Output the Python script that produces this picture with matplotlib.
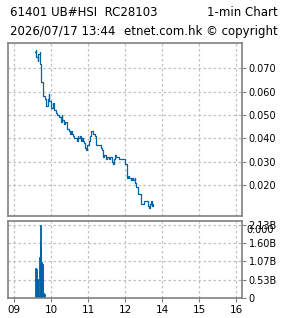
import matplotlib
matplotlib.use("Agg")
import matplotlib.pyplot as plt

# 1-min price data (time, price)
times = ["09:34", "09:35", "09:36", "09:38", "09:39", "09:41", "09:42", "09:43",
         "09:44", "09:46", "09:47", "09:49", "09:51", "09:52", "09:54", "09:56",
         "09:57", "09:59", "10:00", "10:02", "10:04", "10:06", "10:08", "10:10",
         "10:12", "10:13", "10:15", "10:17", "10:18", "10:20", "10:22", "10:23",
         "10:25", "10:27", "10:29", "10:30", "10:32", "10:34", "10:35", "10:37",
         "10:39", "10:41", "10:43", "10:44", "10:46", "10:48", "10:49", "10:51",
         "10:53", "10:55", "10:56", "10:58", "11:00", "11:01", "11:03", "11:05",
         "11:06", "11:08", "11:10", "11:11", "11:13", "11:15", "11:19", "11:20",
         "11:22", "11:24", "11:26", "11:28", "11:29", "11:31", "11:34", "11:36",
         "11:38", "11:40", "11:41", "11:43", "11:45", "11:48", "11:50", "11:56",
         "11:59", "13:01", "13:02", "13:03", "13:05", "13:06", "13:08", "13:10",
         "13:11", "13:13", "13:15", "13:16", "13:18", "13:20", "13:21", "13:23",
         "13:25", "13:26", "13:29", "13:31", "13:34", "13:37", "13:39", "13:40",
         "13:41", "13:43", "13:44", "13:45"]
prices = [0.077, 0.078, 0.075, 0.073, 0.076, 0.077, 0.072, 0.072,
          0.064, 0.059, 0.058, 0.057, 0.056, 0.054, 0.057, 0.059,
          0.056, 0.055, 0.053, 0.055, 0.052, 0.052, 0.051, 0.050,
          0.049, 0.049, 0.047, 0.050, 0.048, 0.046, 0.047, 0.047,
          0.044, 0.044, 0.043, 0.042, 0.043, 0.042, 0.041, 0.040,
          0.040, 0.039, 0.041, 0.040, 0.041, 0.039, 0.040, 0.039,
          0.038, 0.036, 0.035, 0.037, 0.037, 0.039, 0.041, 0.043,
          0.043, 0.042, 0.042, 0.041, 0.037, 0.037, 0.037, 0.036,
          0.035, 0.032, 0.033, 0.032, 0.031, 0.032, 0.031, 0.032,
          0.030, 0.029, 0.031, 0.033, 0.032, 0.032, 0.031, 0.031,
          0.029, 0.029, 0.026, 0.023, 0.024, 0.023, 0.023, 0.022,
          0.023, 0.022, 0.023, 0.021, 0.019, 0.017, 0.016, 0.016,
          0.015, 0.012, 0.012, 0.013, 0.013, 0.011, 0.010, 0.012,
          0.013, 0.011, 0.012, 0.011]

# 1-min turnover (billions)
vol_times = ["09:34", "09:35", "09:36", "09:37", "09:38", "09:39", "09:40", "09:41",
             "09:42", "09:43", "09:44", "09:45", "09:46", "09:47", "09:48"]
volumes = [0.87, 0.86, 0.85, 0.55, 0.55, 0.06, 1.20, 1.65,
           2.12, 1.60, 1.05, 1.00, 0.95, 0.15, 0.12]

hour_ticks = [9, 10, 11, 12, 13, 14, 15]
hour_labels = ["09", "10", "11", "12", "14", "15", "16"]
price_ticks = [0.020, 0.030, 0.040, 0.050, 0.060, 0.070]
vol_ticks = [0, 0.53, 1.07, 1.60, 2.13]
vol_labels = ["0", "0.53B", "1.07B", "1.60B", "2.13B"]


def to_x(t):
    # lunch break removed: afternoon shifted back one hour
    h, m = int(t[:2]), int(t[3:])
    x = h + m / 60.0
    return x - 1 if h >= 13 else x


blue = "#0063a5"
frame = "#808080"
grid = "#c0c0c0"

fig = plt.figure(figsize=(2.85, 3.18), dpi=100)

ax1 = fig.add_axes([0.0291, 0.3208, 0.8211, 0.545])
ax2 = fig.add_axes([0.0291, 0.0638, 0.8211, 0.2412])

ax1.plot([to_x(t) for t in times], prices, color=blue, lw=0.9,
         drawstyle="steps-post")
ax2.bar([to_x(t) for t in vol_times], volumes, width=1 / 60.0,
        align="edge", color=blue, edgecolor=blue, linewidth=0.6)

for ax in (ax1, ax2):
    ax.set_xlim(8.838, 15.162)
    ax.set_xticks(hour_ticks)
    ax.grid(True, linestyle=(0, (2, 2)), color=grid, linewidth=0.9)
    ax.set_axisbelow(True)
    for s in ax.spines.values():
        s.set_color(frame)
        s.set_linewidth(1.2)
    ax.yaxis.tick_right()
    ax.tick_params(axis="y", direction="out", length=3, width=0.8,
                   color=frame, labelsize=7, pad=1.5)
    ax.tick_params(axis="x", direction="out", length=3, width=0.8,
                   color=frame, labelsize=7.5, pad=2)

ax1.set_ylim(0.00672, 0.08097)
ax1.set_yticks(price_ticks)
ax1.set_yticklabels(["%.3f" % v for v in price_ticks])
ax1.tick_params(axis="x", labelbottom=False, length=0)

ax2.set_ylim(0, 2.247)
ax2.set_yticks(vol_ticks)
ax2.set_yticklabels(vol_labels)
ax2.set_xticklabels(hour_labels)
ax2.text(1.018, 1.98, "0.000", transform=ax2.get_yaxis_transform(),
         fontsize=7, va="center", ha="left")

fig.text(10 / 285, 1 - 13 / 318, "61401 UB#HSI  RC28103", fontsize=8.5,
         va="center", ha="left")
fig.text(278 / 285, 1 - 13 / 318, "1-min Chart", fontsize=8.5,
         va="center", ha="right")
fig.text(10 / 285, 1 - 31.5 / 318, "2026/07/17 13:44", fontsize=8.5,
         va="center", ha="left")
fig.text(278 / 285, 1 - 31.5 / 318, "etnet.com.hk \u00a9 copyright",
         fontsize=8.5, va="center", ha="right")

fig.savefig("out.png", dpi=100)
